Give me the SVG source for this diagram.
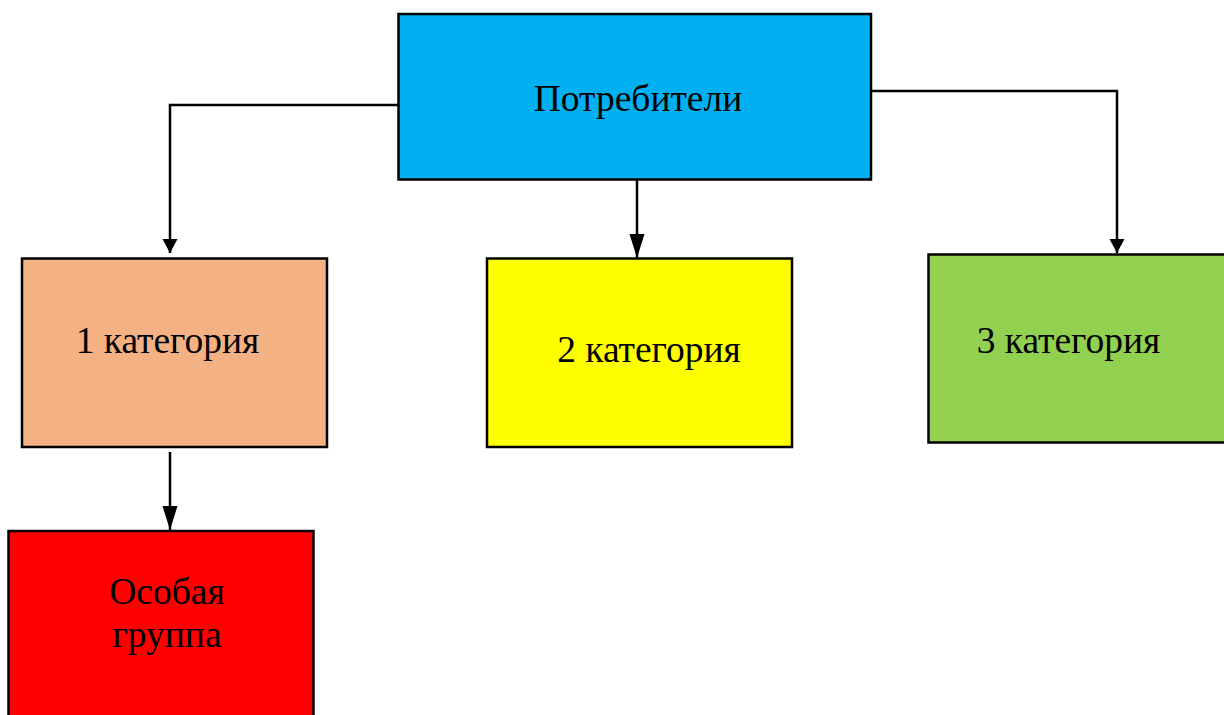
<svg xmlns="http://www.w3.org/2000/svg" width="1224" height="715" viewBox="0 0 1224 715">
<style>
.box{stroke:#000;stroke-width:2.5}
.lbl{font-family:"Liberation Serif","Times New Roman",serif;font-size:37.5px;fill:#000;text-anchor:middle}
.con{fill:none;stroke:#000;stroke-width:2.5}
</style>
<defs>
<marker id="aS" markerUnits="userSpaceOnUse" markerWidth="16" markerHeight="16" refX="14" refY="7.5" orient="auto">
<path d="M0,0 L14,7.5 L0,15 Z" fill="#000"/>
</marker>
<marker id="aL" markerUnits="userSpaceOnUse" markerWidth="26" markerHeight="18" refX="24" refY="7.5" orient="auto">
<path d="M0,0 L24,7.5 L0,15 Z" fill="#000"/>
</marker>
</defs>
<rect width="1224" height="715" fill="#fff"/>
<g id="connectors">
<path class="con" d="M398,105 H170 V253" marker-end="url(#aS)"/>
<path class="con" d="M637,179 V258" marker-end="url(#aL)"/>
<path class="con" d="M871,91 H1117 V253" marker-end="url(#aS)"/>
<path class="con" d="M170,452 V530" marker-end="url(#aL)"/>
</g>
<g id="node-consumers">
<rect class="box" x="398.5" y="14" width="472.5" height="165.5" fill="#00B0F0"/>
<text class="lbl" x="638" y="111">Потребители</text>
</g>
<g id="node-cat1">
<rect class="box" x="22" y="258.5" width="305" height="188.5" fill="#F4B183"/>
<text class="lbl" x="167.5" y="353">1 категория</text>
</g>
<g id="node-cat2">
<rect class="box" x="487" y="258.5" width="305" height="188.5" fill="#FFFF00"/>
<text class="lbl" x="649" y="362">2 категория</text>
</g>
<g id="node-cat3">
<rect class="box" x="928.5" y="254.5" width="300" height="188" fill="#92D050"/>
<text class="lbl" x="1068.5" y="353">3 категория</text>
</g>
<g id="node-special">
<rect class="box" x="8.5" y="531" width="305" height="200" fill="#FF0000"/>
<text class="lbl" x="167" y="604">Особая</text>
<text class="lbl" x="167" y="647">группа</text>
</g>
</svg>
